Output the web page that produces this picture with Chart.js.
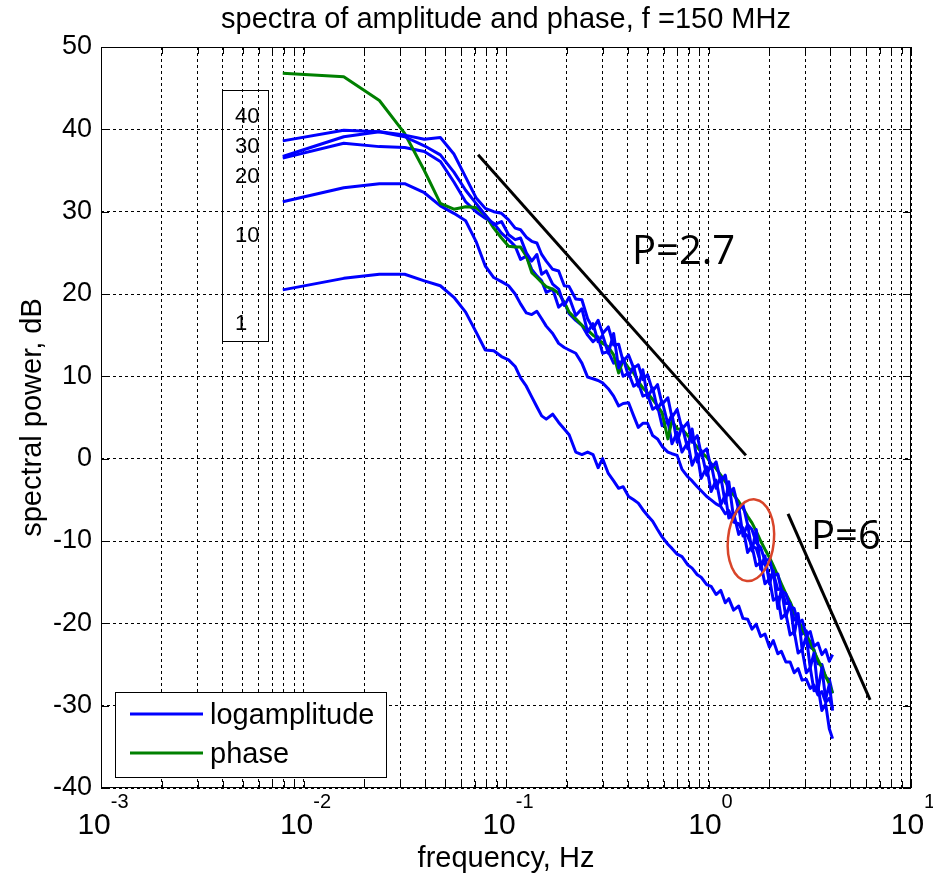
<!DOCTYPE html>
<html>
<head>
<meta charset="utf-8">
<title>spectra of amplitude and phase</title>
<script src="https://cdn.jsdelivr.net/npm/chart.js@4.4.1/dist/chart.umd.min.js"></script>
<style>
  html, body { margin: 0; padding: 0; background: #fff; }
</style>
</head>
<body>
<canvas id="chart" width="933" height="879"></canvas>
<script>
// frequency grid, Hz
const freq = [
  0.0079, 0.0158, 0.0237, 0.0316, 0.0395, 0.0474, 0.0553, 0.0632, 0.0711, 0.079,
  0.087, 0.095, 0.103, 0.111, 0.118, 0.126, 0.134, 0.142, 0.150, 0.158,
  0.170, 0.182, 0.194, 0.205, 0.221, 0.237, 0.253, 0.269, 0.285, 0.300,
  0.320, 0.340, 0.360, 0.379, 0.403, 0.427, 0.450, 0.474, 0.50, 0.53,
  0.56, 0.59, 0.63, 0.66, 0.70, 0.74, 0.79, 0.83, 0.88, 0.92,
  0.98, 1.03, 1.09, 1.15, 1.21, 1.26, 1.33, 1.41, 1.48, 1.56,
  1.64, 1.72, 1.81, 1.90, 2.00, 2.09, 2.20, 2.29, 2.41, 2.53,
  2.65, 2.77, 2.90, 3.04, 3.18, 3.32, 3.47, 3.63, 3.79, 3.95,
  4.10
];

// logamplitude spectra, dB (one per path label)
const amp40 = [
  38.6, 39.9, 39.7, 39.3, 38.8, 39.0, 37.0, 34.2, 31.7, 30.4,
  30.0, 29.8, 29.0, 28.0, 27.8, 26.9, 26.4, 26.2, 24.8, 24.0,
  23.0, 22.8, 21.0, 20.9, 19.4, 19.3, 17.0, 15.8, 16.8, 15.2,
  16.0, 13.8, 13.9, 11.8, 12.6, 11.0, 11.4, 9.6, 10.2, 8.2,
  9.0, 6.6, 7.4, 5.0, 6.0, 3.6, 4.4, 2.0, 2.8, 0.6,
  1.2, -1.2, -0.4, -2.8, -2.0, -4.4, -3.6, -6.2, -5.6, -8.0,
  -8.6, -10.2, -10.8, -12.4, -12.2, -14.2, -14.0, -16.0, -16.4, -18.0,
  -18.2, -20.0, -19.6, -21.4, -21.0, -22.8, -22.4, -23.8, -23.2, -24.6,
  -23.8
];
const amp30 = [
  36.7, 39.1, 39.7, 39.1, 38.0, 36.9, 34.8, 32.6, 31.0, 29.6,
  28.4, 28.8, 27.2, 26.6, 26.8, 25.0, 24.0, 24.8, 22.4, 22.8,
  21.2, 20.6, 18.6, 19.6, 17.4, 18.2, 15.4, 16.4, 14.2, 15.0,
  12.8, 15.2, 11.0, 12.2, 10.0, 11.2, 8.8, 10.8, 7.4, 8.6,
  6.0, 7.0, 4.2, 5.4, 2.0, 4.0, 1.2, 3.6, -0.4, 1.0,
  -2.0, -0.6, -3.6, -2.2, -5.4, -2.8, -7.2, -5.8, -9.4, -8.0,
  -11.2, -8.6, -13.4, -11.8, -15.2, -13.6, -18.2, -15.8, -19.2, -17.6,
  -21.4, -18.8, -23.2, -21.6, -25.4, -23.6, -28.2, -25.4, -29.2, -27.4,
  -30.6
];
const amp20 = [
  36.5, 38.3, 37.9, 37.8, 37.3, 36.1, 33.6, 31.2, 30.0, 29.2,
  28.6, 27.4, 26.6, 25.8, 24.2, 24.6, 23.0, 22.2, 21.6, 20.2,
  20.6, 18.4, 19.0, 17.6, 16.8, 16.2, 15.0, 14.2, 14.8, 12.8,
  13.0, 11.6, 11.8, 10.0, 10.4, 8.8, 9.2, 7.6, 7.8, 6.0,
  6.4, 4.0, 4.6, 1.8, 3.2, 0.8, 2.0, -0.8, 0.6, -2.4,
  -1.0, -4.0, -2.6, -5.6, -4.4, -7.2, -6.6, -9.2, -8.4, -11.4,
  -10.6, -13.0, -12.6, -15.2, -14.6, -17.2, -16.8, -19.4, -18.8, -21.4,
  -21.0, -23.6, -23.2, -26.0, -25.4, -28.2, -27.6, -30.6, -29.8, -32.8,
  -34.0
];
const amp10 = [
  31.2, 32.9, 33.4, 33.4, 32.3, 30.7, 29.8, 28.9, 26.4, 23.4,
  22.0, 21.5, 21.0, 20.0, 18.8, 17.7, 17.5, 17.9, 17.0, 16.1,
  15.2, 14.0, 13.5, 13.2, 12.8, 11.6, 9.9, 9.7, 9.5, 9.2,
  8.5, 7.6, 6.4, 6.7, 6.8, 5.2, 3.8, 4.3, 4.3, 2.8,
  2.4, 1.5, 0.8, 0.6, 0.4, -1.3, -2.2, -2.7, -3.4, -3.9,
  -4.6, -5.0, -5.5, -5.8, -6.7, -6.3, -7.7, -7.9, -8.9, -9.4,
  -10.6, -10.9, -12.6, -12.8, -14.3, -13.9, -15.9, -15.8, -17.6, -17.6,
  -19.6, -19.4, -21.3, -20.9, -22.9, -23.2, -24.9, -25.0, -26.6, -26.8,
  -28.5
];
const amp1 = [
  20.5, 21.9, 22.4, 22.4, 21.6, 21.0, 19.6, 17.8, 15.4, 13.2,
  13.1, 12.4, 12.0, 11.2, 9.8, 8.8, 7.5, 6.3, 5.2, 4.8,
  5.4, 4.4, 3.6, 2.9, 0.8, 0.5, 0.8, 0.5, -1.1, 0.0,
  -1.8, -2.7, -3.6, -3.4, -4.6, -5.0, -5.4, -6.2, -6.9, -7.6,
  -8.6, -9.5, -10.4, -10.9, -11.6, -11.9, -12.9, -13.3, -14.1, -14.4,
  -15.3, -15.5, -16.5, -16.0, -17.5, -17.0, -18.4, -17.9, -19.4, -19.5,
  -20.7, -20.1, -21.6, -21.3, -22.9, -22.1, -23.7, -23.4, -24.7, -24.7,
  -26.0, -25.5, -26.9, -26.8, -27.9, -27.5, -28.7, -28.3, -29.6, -29.1,
  -30.3
];

// phase spectrum, dB
const phase = [
  46.8, 46.4, 43.5, 39.5, 35.0, 31.0, 30.3, 30.6, 30.5, 29.6,
  28.0, 26.8, 25.8, 25.7, 25.7, 24.6, 22.6, 22.0, 21.4, 20.9,
  20.6, 20.1, 19.0, 17.8, 17.0, 16.2, 15.6, 15.0, 14.6, 14.0,
  13.6, 12.6, 10.4, 12.0, 11.0, 10.4, 9.4, 8.6, 8.0, 7.2,
  6.4, 5.6, 2.4, 4.6, 3.6, 3.6, 2.8, 2.2, 1.4, 0.8,
  0.2, -0.6, -1.2, -2.0, -2.8, -3.4, -4.4, -5.2, -6.0, -7.0,
  -7.8, -8.8, -10.0, -11.0, -12.0, -13.0, -14.2, -15.2, -16.4, -17.4,
  -18.6, -19.6, -20.6, -21.6, -22.2, -23.4, -24.4, -25.4, -26.4, -27.4,
  -28.5
];

// reference power-law slopes
const slope27Freq = [0.0728, 1.53];
const slope27Db = [36.9, 0.4];
const slope6Freq = [2.47, 6.28];
const slope6Db = [-6.7, -29.3];

const curveLabels = ['40', '30', '20', '10', '1'];
const xTickExponents = [-3, -2, -1, 0, 1];

const FONT = '"Liberation Sans", Arial, Helvetica, sans-serif';
const BLUE = '#0000ff';
const GREEN = '#008000';

function points(xs, ys) {
  return xs.map((f, i) => ({ x: f, y: ys[i] }));
}

function line(label, xs, ys, color) {
  return {
    label: label,
    data: points(xs, ys),
    borderColor: color,
    backgroundColor: color,
    borderWidth: 3,
    pointRadius: 0,
    tension: 0,
    borderJoinStyle: 'round',
    fill: false
  };
}

const annotations = {
  id: 'annotations',
  afterDraw(chart) {
    const { ctx, chartArea: a, scales: { x, y } } = chart;
    ctx.save();

    // axes box and inner tick marks
    ctx.strokeStyle = '#000';
    ctx.lineWidth = 1;
    ctx.strokeRect(a.left + 0.5, a.top + 0.5, a.right - a.left - 1, a.bottom - a.top - 1);
    ctx.beginPath();
    x.ticks.forEach(t => {
      const px = Math.round(x.getPixelForValue(t.value)) + 0.5;
      ctx.moveTo(px, a.bottom); ctx.lineTo(px, a.bottom - 7);
      ctx.moveTo(px, a.top); ctx.lineTo(px, a.top + 7);
    });
    y.ticks.forEach(t => {
      const py = Math.round(y.getPixelForValue(t.value)) + 0.5;
      ctx.moveTo(a.left, py); ctx.lineTo(a.left + 8, py);
      ctx.moveTo(a.right, py); ctx.lineTo(a.right - 8, py);
    });
    ctx.stroke();

    ctx.fillStyle = '#000';

    // title
    ctx.font = '29px ' + FONT;
    ctx.textAlign = 'center';
    ctx.textBaseline = 'alphabetic';
    ctx.fillText('spectra of amplitude and phase, f =150 MHz', (a.left + a.right) / 2, 28);

    // x tick labels 10^n
    xTickExponents.forEach(e => {
      const px = x.getPixelForValue(Math.pow(10, e));
      const base = '10', sup = String(e);
      ctx.font = '30px ' + FONT;
      const w1 = ctx.measureText(base).width;
      ctx.font = '20px ' + FONT;
      const w2 = ctx.measureText(sup).width;
      const left = px - (w1 + w2) / 2 + 2;
      ctx.textAlign = 'left';
      ctx.font = '30px ' + FONT;
      ctx.fillText(base, left, 834);
      ctx.font = '20px ' + FONT;
      ctx.fillText(sup, left + w1, 808);
    });

    // axis titles
    ctx.font = '29px ' + FONT;
    ctx.textAlign = 'center';
    ctx.fillText('frequency, Hz', (a.left + a.right) / 2, 867);
    ctx.save();
    ctx.translate(41, (a.top + a.bottom) / 2);
    ctx.rotate(-Math.PI / 2);
    ctx.fillText('spectral power, dB', 0, 0);
    ctx.restore();

    // path label box
    ctx.strokeRect(222.5, 90.5, 46, 251);
    ctx.font = '22px ' + FONT;
    ctx.textAlign = 'left';
    ctx.textBaseline = 'middle';
    const labelY = [117, 147, 177, 236, 324];
    curveLabels.forEach((t, i) => ctx.fillText(t, 235, labelY[i]));

    // slope annotations
    ctx.font = '40px "Open Sans", ' + FONT;
    ctx.textBaseline = 'alphabetic';
    ctx.fillText('P=2.7', 632, 264);
    ctx.fillText('P=6', 811, 549);

    // red ellipse
    ctx.strokeStyle = '#d9452a';
    ctx.lineWidth = 2.5;
    ctx.beginPath();
    ctx.ellipse(x.getPixelForValue(1.62), y.getPixelForValue(-9.9), 23, 41, 0.1, 0, 2 * Math.PI);
    ctx.stroke();

    // legend
    ctx.fillStyle = '#fff';
    ctx.fillRect(115, 692, 271, 85);
    ctx.strokeStyle = '#000';
    ctx.lineWidth = 1;
    ctx.strokeRect(115.5, 692.5, 271, 85);
    ctx.lineWidth = 3;
    ctx.strokeStyle = BLUE;
    ctx.beginPath(); ctx.moveTo(130, 714); ctx.lineTo(203, 714); ctx.stroke();
    ctx.strokeStyle = GREEN;
    ctx.beginPath(); ctx.moveTo(130, 753); ctx.lineTo(203, 753); ctx.stroke();
    ctx.fillStyle = '#000';
    ctx.font = '29px ' + FONT;
    ctx.textBaseline = 'middle';
    ctx.fillText('logamplitude', 210, 716);
    ctx.fillText('phase', 210, 755);

    ctx.restore();
  }
};

new Chart(document.getElementById('chart'), {
  type: 'line',
  data: {
    datasets: [
      line('P=2.7', slope27Freq, slope27Db, '#000'),
      line('P=6', slope6Freq, slope6Db, '#000'),
      line('40', freq, amp40, BLUE),
      line('30', freq, amp30, BLUE),
      line('phase', freq, phase, GREEN),
      line('20', freq, amp20, BLUE),
      line('10', freq, amp10, BLUE),
      line('1', freq, amp1, BLUE)
    ]
  },
  options: {
    responsive: false,
    animation: false,
    devicePixelRatio: 1,
    layout: { padding: { top: 47, right: 22, left: 0, bottom: 0 } },
    plugins: {
      legend: { display: false },
      title: { display: false },
      tooltip: { enabled: false }
    },
    scales: {
      x: {
        type: 'logarithmic',
        min: 0.001,
        max: 10,
        afterBuildTicks: (s) => {
          const t = [];
          for (let e = -3; e <= 0; e++) {
            for (let m = 1; m <= 9; m++) t.push({ value: m * Math.pow(10, e) });
          }
          t.push({ value: 10 });
          s.ticks = t;
        },
        afterFit: (s) => { s.height = 91; },
        ticks: { display: false },
        grid: { color: '#000', lineWidth: 1, drawTicks: false },
        border: { display: false, dash: [3, 3] }
      },
      y: {
        min: -40,
        max: 50,
        afterFit: (s) => { s.width = 101; },
        ticks: { stepSize: 10, color: '#000', padding: 9, font: { family: FONT, size: 27 } },
        grid: { color: '#000', lineWidth: 1, drawTicks: false },
        border: { display: false, dash: [3, 3] }
      }
    }
  },
  plugins: [annotations]
});
</script>
</body>
</html>
